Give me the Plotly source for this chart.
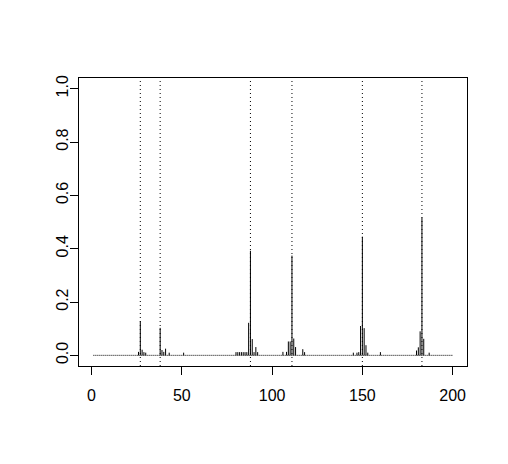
import plotly.graph_objects as go

# spike data (type="h")
xs = [26, 27, 28, 29, 30, 38, 39, 40, 41, 43, 51,
      80, 81, 82, 83, 84, 85, 86, 87, 88, 89, 90, 91, 92,
      106, 108, 109, 110, 111, 112, 113, 117, 118,
      145, 147, 148, 149, 150, 151, 152, 153, 160,
      180, 181, 182, 183, 184, 187]
ys = [0.013, 0.128, 0.021, 0.012, 0.010, 0.103, 0.020, 0.013, 0.025, 0.010, 0.010,
      0.012, 0.012, 0.012, 0.012, 0.012, 0.012, 0.012, 0.122, 0.392, 0.061, 0.012, 0.031, 0.012,
      0.013, 0.013, 0.052, 0.052, 0.374, 0.063, 0.031, 0.023, 0.012,
      0.010, 0.010, 0.012, 0.110, 0.445, 0.102, 0.038, 0.010, 0.012,
      0.018, 0.030, 0.090, 0.517, 0.062, 0.010]
vlines = [27, 38, 88, 111, 150, 183]
base_x = [1, 200]
base_y = [0, 0]
x_ticks = [0, 50, 100, 150, 200]
y_ticks = [0.0, 0.2, 0.4, 0.6, 0.8, 1.0]
y_ticklabels = ["0.0", "0.2", "0.4", "0.6", "0.8", "1.0"]

hx, hy = [], []
for x, y in zip(xs, ys):
    hx += [x, x, None]
    hy += [0, y, None]

fig = go.Figure()
fig.add_trace(go.Scatter(x=base_x, y=base_y, mode="lines",
                         line=dict(color="black", width=1, dash="1px,1px"),
                         hoverinfo="skip", showlegend=False))
fig.add_trace(go.Scatter(x=hx, y=hy, mode="lines",
                         line=dict(color="black", width=1),
                         hoverinfo="skip", showlegend=False))
for v in vlines:
    fig.add_vline(x=v, line=dict(color="black", width=1, dash="1px,3px"))

axis_common = dict(showgrid=False, zeroline=False, showline=True, mirror=True,
                   linecolor="black", linewidth=1, ticks="outside", ticklen=8,
                   tickcolor="black", tickwidth=1, automargin=False,
                   tickfont=dict(family="Liberation Sans, Arial", size=16, color="black"))
fig.update_xaxes(range=[-6.96, 207.96], tickvals=x_ticks, ticklabelstandoff=7,
                 **axis_common)
fig.update_yaxes(range=[-0.04, 1.04], tickvals=y_ticks, ticktext=y_ticklabels,
                 tickangle=-90, ticklabelstandoff=-4, **axis_common)
fig.update_layout(width=500, height=456, margin=dict(l=71, r=41, t=70, b=98),
                  plot_bgcolor="white", paper_bgcolor="white")
fig.write_html("out.html")
